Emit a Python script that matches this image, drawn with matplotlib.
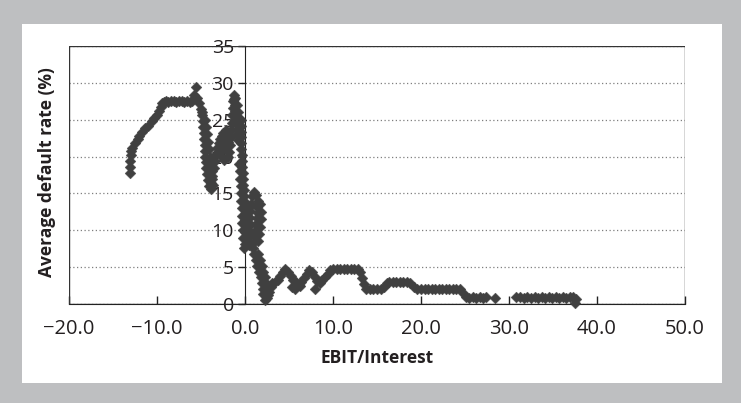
# Average default rate vs EBIT/Interest (scatter, diamond markers)
import matplotlib
matplotlib.use("Agg")
import matplotlib.pyplot as plt
from matplotlib.patches import Rectangle

plt.rcParams['font.family'] = ['Open Sans', 'DejaVu Sans']

# ---- data ----
ebit_interest = [
    # left arm rising to the 27.5 plateau
    -13.1, -13.1, -13.1, -13.0, -13.0, -12.8, -12.5, -12.2, -12.0, -11.7, -11.4,
    -11.0, -10.6, -10.3, -10.0, -9.8, -9.6, -9.4, -9.2, -9.0, -8.7, -8.4, -8.1,
    -7.8, -7.5, -7.2, -6.9, -6.6, -6.3, -6.0, -5.8, -5.6, -5.4,
    # drop to the first V
    -5.2, -5.0, -4.9, -4.8, -4.8, -4.7, -4.7, -4.6, -4.6, -4.5, -4.4, -4.4,
    -4.3, -4.2, -4.1, -3.9,
    -4.9, -4.6, -4.4, -4.3, -4.2, -4.1, -4.0, -3.9, -3.8, -3.7, -3.6,
    # rising arm, dip and spike
    -3.9, -3.7, -3.5, -3.4, -3.3, -3.2, -3.0, -2.8, -2.6, -2.4, -2.3, -2.1,
    -1.9, -1.8, -1.7, -1.6, -1.6, -1.5, -1.5, -1.4, -1.4, -1.3, -1.2, -1.1,
    -1.1, -1.0, -1.0, -0.9, -0.9, -0.8, -0.7, -0.6, -0.5, -0.5, -0.5, -0.4,
    -0.4, -0.4, -0.3, -0.3, -0.3, -0.2, -0.2, -0.2, -0.1, -0.1, 0.0, -0.1,
    0.0, 0.0, 0.1, 0.0, 0.1, 0.0, -0.1,
    -2.9, -2.6, -2.4, -2.7, -2.5, -2.2, -2.0, -1.9, -2.2,
    -1.1, -0.9, -0.8, -0.7,
    -0.7, -0.6, -0.6, -0.5, -0.4, -0.4, -0.3, -0.3, -0.3, -0.2, -0.2,
    # second column just right of zero
    0.3, 0.4, 0.5, 0.5, 0.6, 0.7, 0.8, 1.0, 1.3, 1.5, 1.4, 1.5, 1.4, 1.3, 1.2,
    1.1, 1.0, 0.9, 1.0, 1.2, 1.4, 1.6, 1.8, 1.9, 2.0, 2.1, 2.3,
    0.3, 0.3, 0.4, 0.3, 0.3, 0.4,
    1.7, 1.8, 1.8, 1.7, 1.6, 1.5,
    1.5, 1.7, 1.9, 2.1, 2.3, 2.4, 2.5, 2.6,
    # low region 2 - 14
    2.5, 2.7, 2.9, 3.1, 3.4, 3.7, 4.0, 4.3, 4.6, 4.9, 5.2, 5.5, 5.8, 6.1, 6.4,
    6.7, 7.0, 7.3, 7.6, 7.9, 8.2, 8.5, 8.8, 9.1, 9.4, 9.7, 10.0, 10.4, 10.8,
    11.2, 11.6, 12.0, 12.4, 12.8, 13.1, 13.3, 13.5, 13.8, 5.3, 5.7, 6.2, 8.0,
    # tail
    14.2, 14.6, 15.0, 15.4, 15.8, 16.1, 16.4, 16.8, 17.2, 17.6, 18.0, 18.4,
    18.8, 19.2, 19.6, 20.0, 20.4, 20.8, 21.2, 21.6, 22.0, 22.4, 22.8, 23.2,
    23.6, 24.0, 24.4, 24.8, 25.1, 25.5, 25.9, 26.3, 26.7, 27.1, 27.4, 28.4,
    30.8, 31.3, 31.7, 32.1, 32.5, 32.9, 33.3, 33.7, 34.1, 34.5, 34.9, 35.3,
    35.7, 36.1, 36.5, 36.9, 37.3, 37.5, 37.6,
]
default_rate = [
    17.8, 18.6, 19.4, 20.2, 20.8, 21.2, 21.8, 22.4, 22.8, 23.4, 23.9,
    24.2, 24.8, 25.3, 25.6, 26.2, 26.7, 27.2, 27.4, 27.6, 27.4, 27.5, 27.5,
    27.4, 27.5, 27.5, 27.4, 27.5, 27.4, 27.6, 28.3, 29.5, 28.0,
    27.2, 26.4, 25.6, 24.8, 24.0, 23.2, 22.4, 21.6, 20.8, 20.0, 19.2, 18.4,
    17.6, 16.8, 16.0, 15.6,
    26.0, 25.0, 24.0, 23.0, 22.0, 21.0, 20.0, 19.0, 18.0, 17.0, 16.2,
    16.4, 17.4, 18.4, 19.4, 20.4, 21.2, 21.8, 22.4, 22.8, 22.4, 21.6, 20.8,
    20.0, 20.6, 21.6, 22.6, 23.6, 24.6, 25.6, 26.6, 27.6, 28.4, 27.8, 27.0,
    26.2, 25.4, 24.6, 23.8, 23.0, 22.2, 23.0, 24.0, 25.0, 24.2, 23.4, 22.6,
    21.8, 21.0, 20.2, 19.4, 18.6, 17.8, 17.0, 16.2, 15.4, 14.6, 13.8, 13.0,
    12.2, 11.4, 10.6, 9.8, 9.0, 8.2, 7.6,
    20.5, 20.0, 19.6, 21.0, 23.2, 23.6, 23.0, 22.0, 21.4,
    28.0, 27.0, 26.0, 25.2,
    19.0, 18.0, 17.0, 16.0, 15.0, 14.0, 13.0, 12.0, 11.0, 10.0, 9.0,
    8.6, 9.6, 10.6, 11.6, 12.6, 13.6, 14.6, 15.2, 14.8, 14.0, 13.2, 12.4, 11.6,
    10.8, 10.0, 9.2, 8.4, 7.6, 6.8, 6.0, 5.2, 4.4, 3.6, 2.8, 2.0, 1.3, 0.5,
    13.0, 12.0, 11.0, 10.0, 9.0, 8.0,
    13.5, 12.5, 11.5, 10.5, 9.5, 8.5,
    6.8, 6.0, 5.2, 4.4, 3.6, 2.8, 2.0, 1.2,
    0.8, 1.6, 2.3, 2.8, 3.0, 3.2, 3.8, 4.3, 4.7, 4.4, 3.8, 3.3, 3.0, 2.6, 3.0,
    3.5, 4.1, 4.6, 4.3, 3.6, 3.1, 2.8, 3.2, 3.6, 4.1, 4.6, 4.8, 4.8, 4.8,
    4.8, 4.8, 4.8, 4.8, 4.7, 4.3, 3.5, 2.7, 2.1, 2.3, 2.1, 2.4, 2.1,
    2.0, 2.0, 2.0, 2.1, 2.3, 2.8, 3.0, 3.0, 3.0, 3.0, 3.0, 3.0,
    2.8, 2.3, 2.0, 2.1, 2.1, 2.1, 2.0, 2.1, 2.1, 2.0, 2.1, 2.1,
    2.0, 2.1, 2.0, 1.5, 0.9, 0.8, 1.0, 0.8, 1.0, 0.8, 1.0, 0.8,
    0.9, 0.9, 0.8, 0.9, 0.8, 0.9, 0.8, 0.9, 0.8, 0.9, 0.8, 0.9,
    0.8, 0.9, 0.8, 1.0, 0.9, 0.2, 0.7,
]

x_ticks = [-20, -10, 0, 10, 20, 30, 40, 50]
x_tick_labels = ['\u221220.0', '\u221210.0', '0.0', '10.0', '20.0', '30.0', '40.0', '50.0']
y_ticks = [0, 5, 10, 15, 20, 25, 30, 35]

text_col = '#231f20'
fig = plt.figure(figsize=(7.41, 4.03), dpi=100)
fig.patch.set_facecolor('#bebfc1')

# white panel behind the chart
bg = fig.add_axes([22 / 741, 1 - 383 / 403, 700 / 741, 359 / 403], zorder=-5)
bg.set_facecolor('white')
bg.set_xticks([])
bg.set_yticks([])
for s in bg.spines.values():
    s.set_visible(False)

ax = fig.add_axes([69 / 741, 1 - 304 / 403, 616 / 741, 258 / 403])
ax.set_facecolor('none')

ax.scatter(ebit_interest, default_rate, marker='D', s=30, color='#404040',
           edgecolors='#404040', linewidths=0.3, zorder=3, clip_on=False)

ax.set_xlim(-20, 50)
ax.set_ylim(0, 35)

# y axis crosses at x = 0, frame drawn as a box
for side in ['top', 'right']:
    ax.spines[side].set_visible(False)
ax.spines['left'].set_position(('data', 0))
ax.spines['left'].set_color('#222222')
ax.spines['bottom'].set_color('#222222')
ax.add_patch(Rectangle((0, 0), 1, 1, transform=ax.transAxes, fill=False,
                       edgecolor='#333333', linewidth=1.0, zorder=1))

ax.set_yticks(y_ticks)
ax.set_xticks(x_ticks)
ax.set_xticklabels(x_tick_labels)
ax.tick_params(axis='y', direction='out', length=5, width=1, pad=3,
               labelsize=14, labelcolor=text_col, color='#222222')
ax.tick_params(axis='x', direction='in', length=6, width=1, pad=11,
               labelsize=14.5, labelcolor=text_col, color='#222222')

ax.yaxis.grid(True, linestyle=(0, (1, 2)), color='#7f7f7f', linewidth=0.9)
ax.set_axisbelow(True)

ax.set_xlabel('EBIT/Interest', fontsize=12.5, fontweight='bold', color=text_col, labelpad=7)
fig.text(47 / 741, 1 - 172 / 403, 'Average default rate (%)', rotation=90,
         ha='center', va='center', fontsize=12.5, fontweight='bold', color=text_col)

plt.savefig('out.png', dpi=100)
